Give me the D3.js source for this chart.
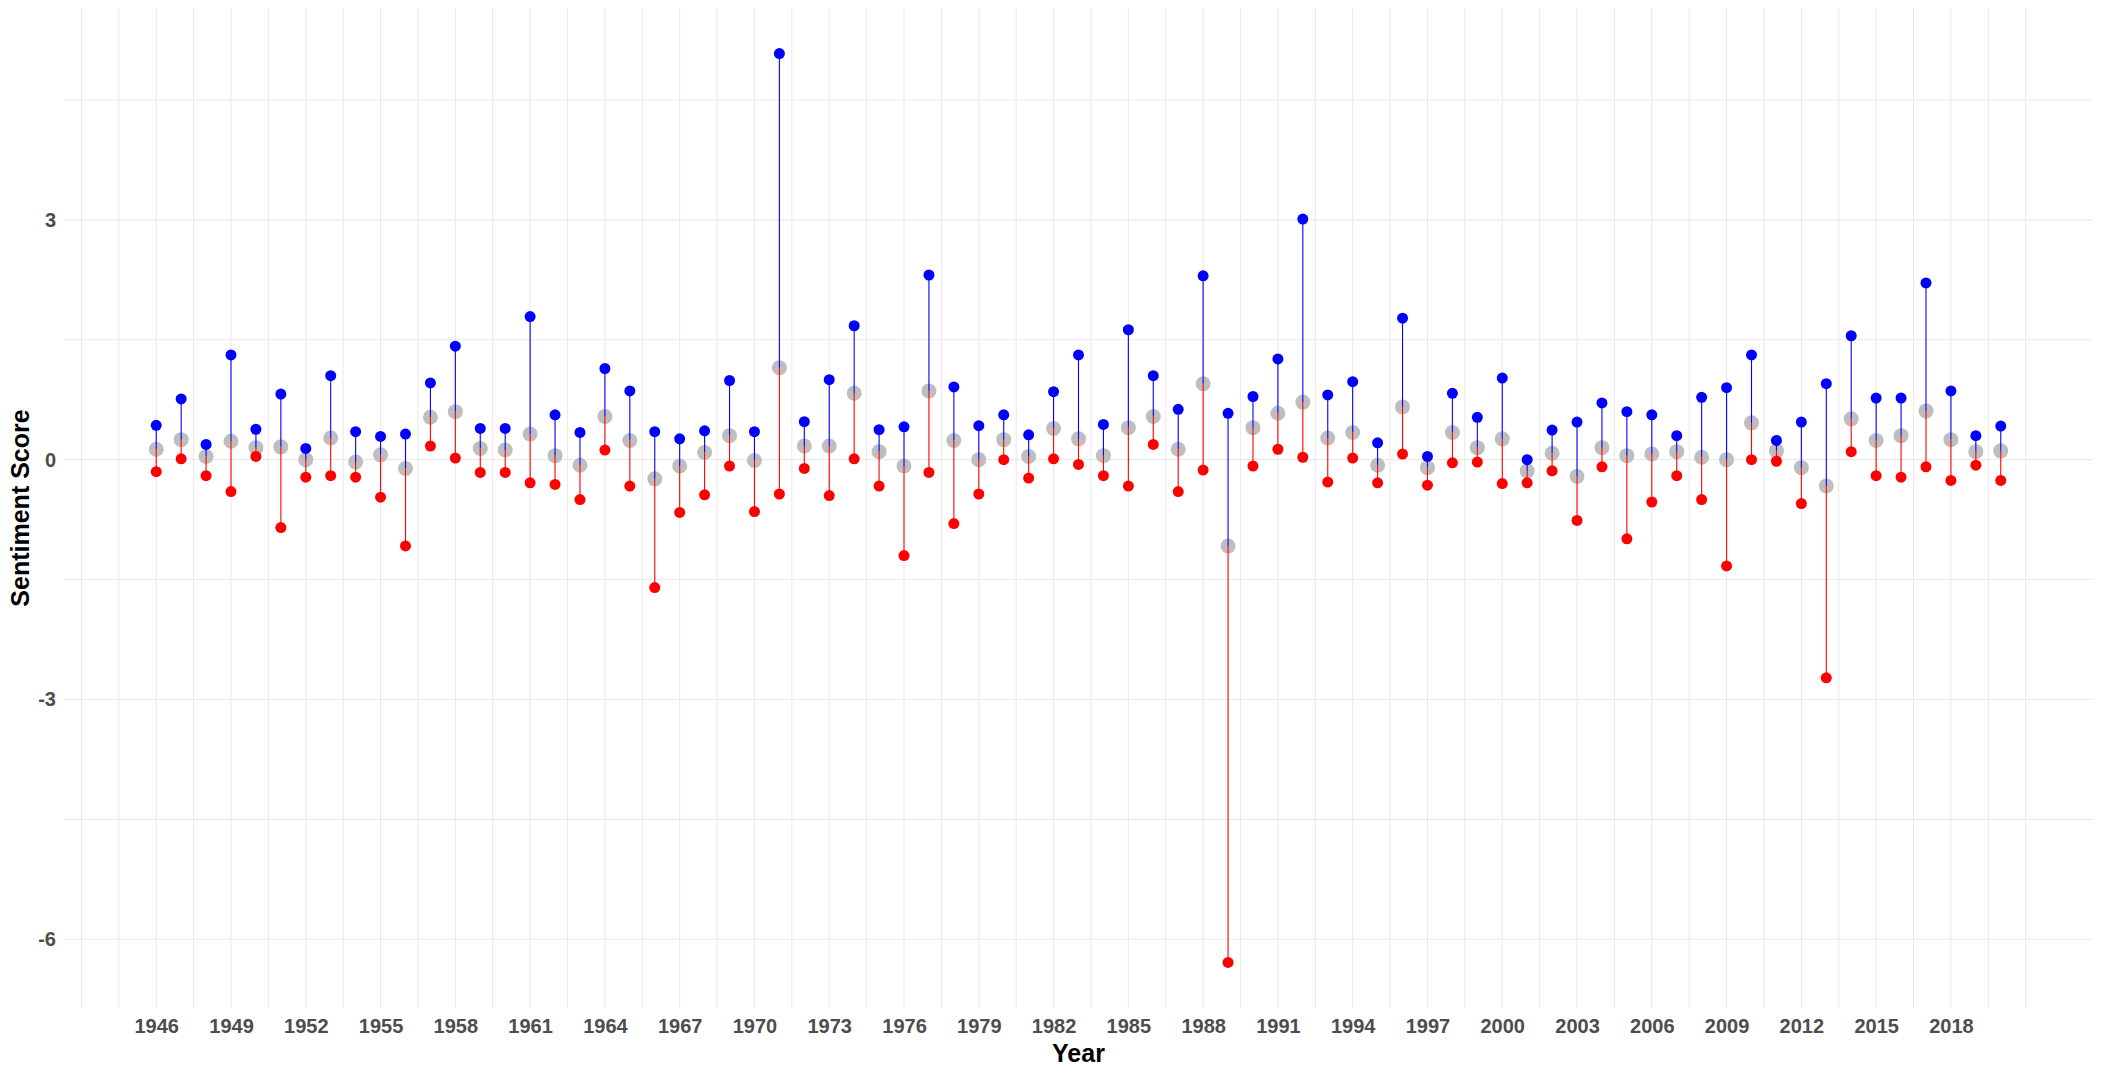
<!DOCTYPE html>
<html>
<head>
<meta charset="utf-8">
<script src="https://cdn.jsdelivr.net/npm/d3@7"></script>
<style>
  body { margin: 0; background: #fff; }
  .tick text { font-family: "Liberation Sans", Arial, sans-serif; font-weight: bold; font-size: 20px; fill: #4d4d4d; }
</style>
</head>
<body>
<svg width="2102" height="1075"></svg>
<script>
var svg = d3.select("svg"),
    width = +svg.attr("width"),
    height = +svg.attr("height");

// one entry per year, 1946 - 2020
var years = d3.range(1946, 2021);

var maxScore = [
  0.43, 0.76, 0.19, 1.31, 0.38, 0.82, 0.14, 1.05, 0.35, 0.29,
  0.32, 0.96, 1.42, 0.39, 0.39, 1.79, 0.56, 0.34, 1.14, 0.86,
  0.35, 0.26, 0.36, 0.99, 0.35, 5.08, 0.475, 1.00, 1.675, 0.375,
  0.41, 2.31, 0.91, 0.425, 0.56, 0.31, 0.85, 1.31, 0.44, 1.625,
  1.05, 0.63, 2.30, 0.58, 0.79, 1.26, 3.01, 0.81, 0.975, 0.21,
  1.77, 0.04, 0.83, 0.53, 1.02, 0.00, 0.37, 0.47, 0.71, 0.60,
  0.56, 0.30, 0.78, 0.90, 1.31, 0.24, 0.47, 0.95, 1.55, 0.77,
  0.77, 2.21, 0.86, 0.30, 0.42
];

var meanScore = [
  0.13, 0.25, 0.04, 0.23, 0.15, 0.16, 0.00, 0.27, -0.03, 0.06,
  -0.11, 0.53, 0.60, 0.14, 0.12, 0.32, 0.05, -0.07, 0.54, 0.24,
  -0.24, -0.08, 0.09, 0.30, -0.01, 1.15, 0.17, 0.17, 0.83, 0.10,
  -0.08, 0.86, 0.24, 0.00, 0.25, 0.04, 0.39, 0.26, 0.05, 0.40,
  0.54, 0.13, 0.95, -1.08, 0.40, 0.58, 0.72, 0.27, 0.34, -0.07,
  0.66, -0.10, 0.34, 0.15, 0.26, -0.14, 0.08, -0.21, 0.15, 0.05,
  0.07, 0.10, 0.03, 0.00, 0.46, 0.11, -0.10, -0.33, 0.51, 0.24,
  0.30, 0.61, 0.25, 0.10, 0.11
];

var minScore = [
  -0.15, 0.01, -0.20, -0.40, 0.04, -0.85, -0.22, -0.20, -0.22, -0.47,
  -1.08, 0.17, 0.02, -0.16, -0.16, -0.29, -0.31, -0.50, 0.12, -0.33,
  -1.60, -0.66, -0.44, -0.08, -0.65, -0.43, -0.11, -0.45, 0.01, -0.33,
  -1.20, -0.16, -0.80, -0.43, 0.00, -0.23, 0.01, -0.06, -0.20, -0.33,
  0.19, -0.40, -0.13, -6.29, -0.08, 0.13, 0.03, -0.28, 0.02, -0.29,
  0.07, -0.32, -0.04, -0.03, -0.30, -0.29, -0.14, -0.76, -0.09, -0.99,
  -0.53, -0.20, -0.50, -1.33, 0.00, -0.02, -0.55, -2.73, 0.10, -0.20,
  -0.22, -0.09, -0.26, -0.07, -0.26
];

var xTicks = d3.range(1946, 2019, 3);
var yTicks = [-6, -3, 0, 3];

var data = years.map(function(y, i) {
  return { year: y, max: maxScore[i], mean: meanScore[i], min: minScore[i] };
});

var margin = { left: 64, right: 9, top: 8, bottom: 67 };

var x = d3.scaleLinear()
    .domain([1942.3, 2023.7])
    .range([margin.left, width - margin.right]);

var y = d3.scaleLinear()
    .domain([-6.86, 5.65])
    .range([height - margin.bottom, margin.top]);

// grid (major + minor, every 1.5)
var xGrid = d3.range(1943, 2021.1, 1.5);
var yGrid = d3.range(-6, 4.6, 1.5);

var grid = svg.append("g").attr("class", "grid");

grid.selectAll(".vgrid")
    .data(xGrid)
    .enter().append("line")
      .attr("x1", function(d) { return x(d); })
      .attr("x2", function(d) { return x(d); })
      .attr("y1", y.range()[0])
      .attr("y2", y.range()[1])
      .attr("stroke", "#ebebeb")
      .attr("stroke-width", 1.1);

grid.selectAll(".hgrid")
    .data(yGrid)
    .enter().append("line")
      .attr("x1", x.range()[0])
      .attr("x2", x.range()[1])
      .attr("y1", function(d) { return y(d); })
      .attr("y2", function(d) { return y(d); })
      .attr("stroke", "#ebebeb")
      .attr("stroke-width", 1.1);

// axes (plain hyphen for negatives, like the original)
var fmt = function(d) { return String(d); };

var xAxis = svg.append("g")
    .attr("transform", "translate(0," + (height - margin.bottom) + ")")
    .call(d3.axisBottom(x).tickValues(xTicks).tickFormat(fmt).tickSize(0).tickPadding(11));
xAxis.select(".domain").remove();

var yAxis = svg.append("g")
    .attr("transform", "translate(" + margin.left + ",0)")
    .call(d3.axisLeft(y).tickValues(yTicks).tickFormat(fmt).tickSize(0).tickPadding(8));
yAxis.select(".domain").remove();

svg.append("text")
    .attr("x", (x.range()[0] + x.range()[1]) / 2)
    .attr("y", 1062)
    .attr("text-anchor", "middle")
    .style("font-family", "'Liberation Sans', Arial, sans-serif")
    .style("font-weight", "bold")
    .style("font-size", "25px")
    .attr("fill", "#000")
    .text("Year");

svg.append("text")
    .attr("transform", "translate(29," + ((y.range()[0] + y.range()[1]) / 2) + ") rotate(-90)")
    .attr("text-anchor", "middle")
    .style("font-family", "'Liberation Sans', Arial, sans-serif")
    .style("font-weight", "bold")
    .style("font-size", "25px")
    .attr("fill", "#000")
    .text("Sentiment Score");

// mean points (drawn under the segments)
svg.append("g")
  .selectAll("circle")
  .data(data)
  .enter().append("circle")
    .attr("cx", function(d) { return x(d.year); })
    .attr("cy", function(d) { return y(d.mean); })
    .attr("r", 7.5)
    .attr("fill", "#bebebe");

// segments mean -> max (blue) and mean -> min (red)
svg.append("g")
  .selectAll("line")
  .data(data)
  .enter().append("line")
    .attr("x1", function(d) { return x(d.year); })
    .attr("x2", function(d) { return x(d.year); })
    .attr("y1", function(d) { return y(d.mean); })
    .attr("y2", function(d) { return y(d.max); })
    .attr("stroke", "#0000ff")
    .attr("stroke-width", 1.1);

svg.append("g")
  .selectAll("line")
  .data(data)
  .enter().append("line")
    .attr("x1", function(d) { return x(d.year); })
    .attr("x2", function(d) { return x(d.year); })
    .attr("y1", function(d) { return y(d.mean); })
    .attr("y2", function(d) { return y(d.min); })
    .attr("stroke", "#ff0000")
    .attr("stroke-width", 1.1);

svg.append("g")
  .selectAll("circle")
  .data(data)
  .enter().append("circle")
    .attr("cx", function(d) { return x(d.year); })
    .attr("cy", function(d) { return y(d.max); })
    .attr("r", 5.5)
    .attr("fill", "#0000ff");

svg.append("g")
  .selectAll("circle")
  .data(data)
  .enter().append("circle")
    .attr("cx", function(d) { return x(d.year); })
    .attr("cy", function(d) { return y(d.min); })
    .attr("r", 5.5)
    .attr("fill", "#ff0000");
</script>
</body>
</html>
